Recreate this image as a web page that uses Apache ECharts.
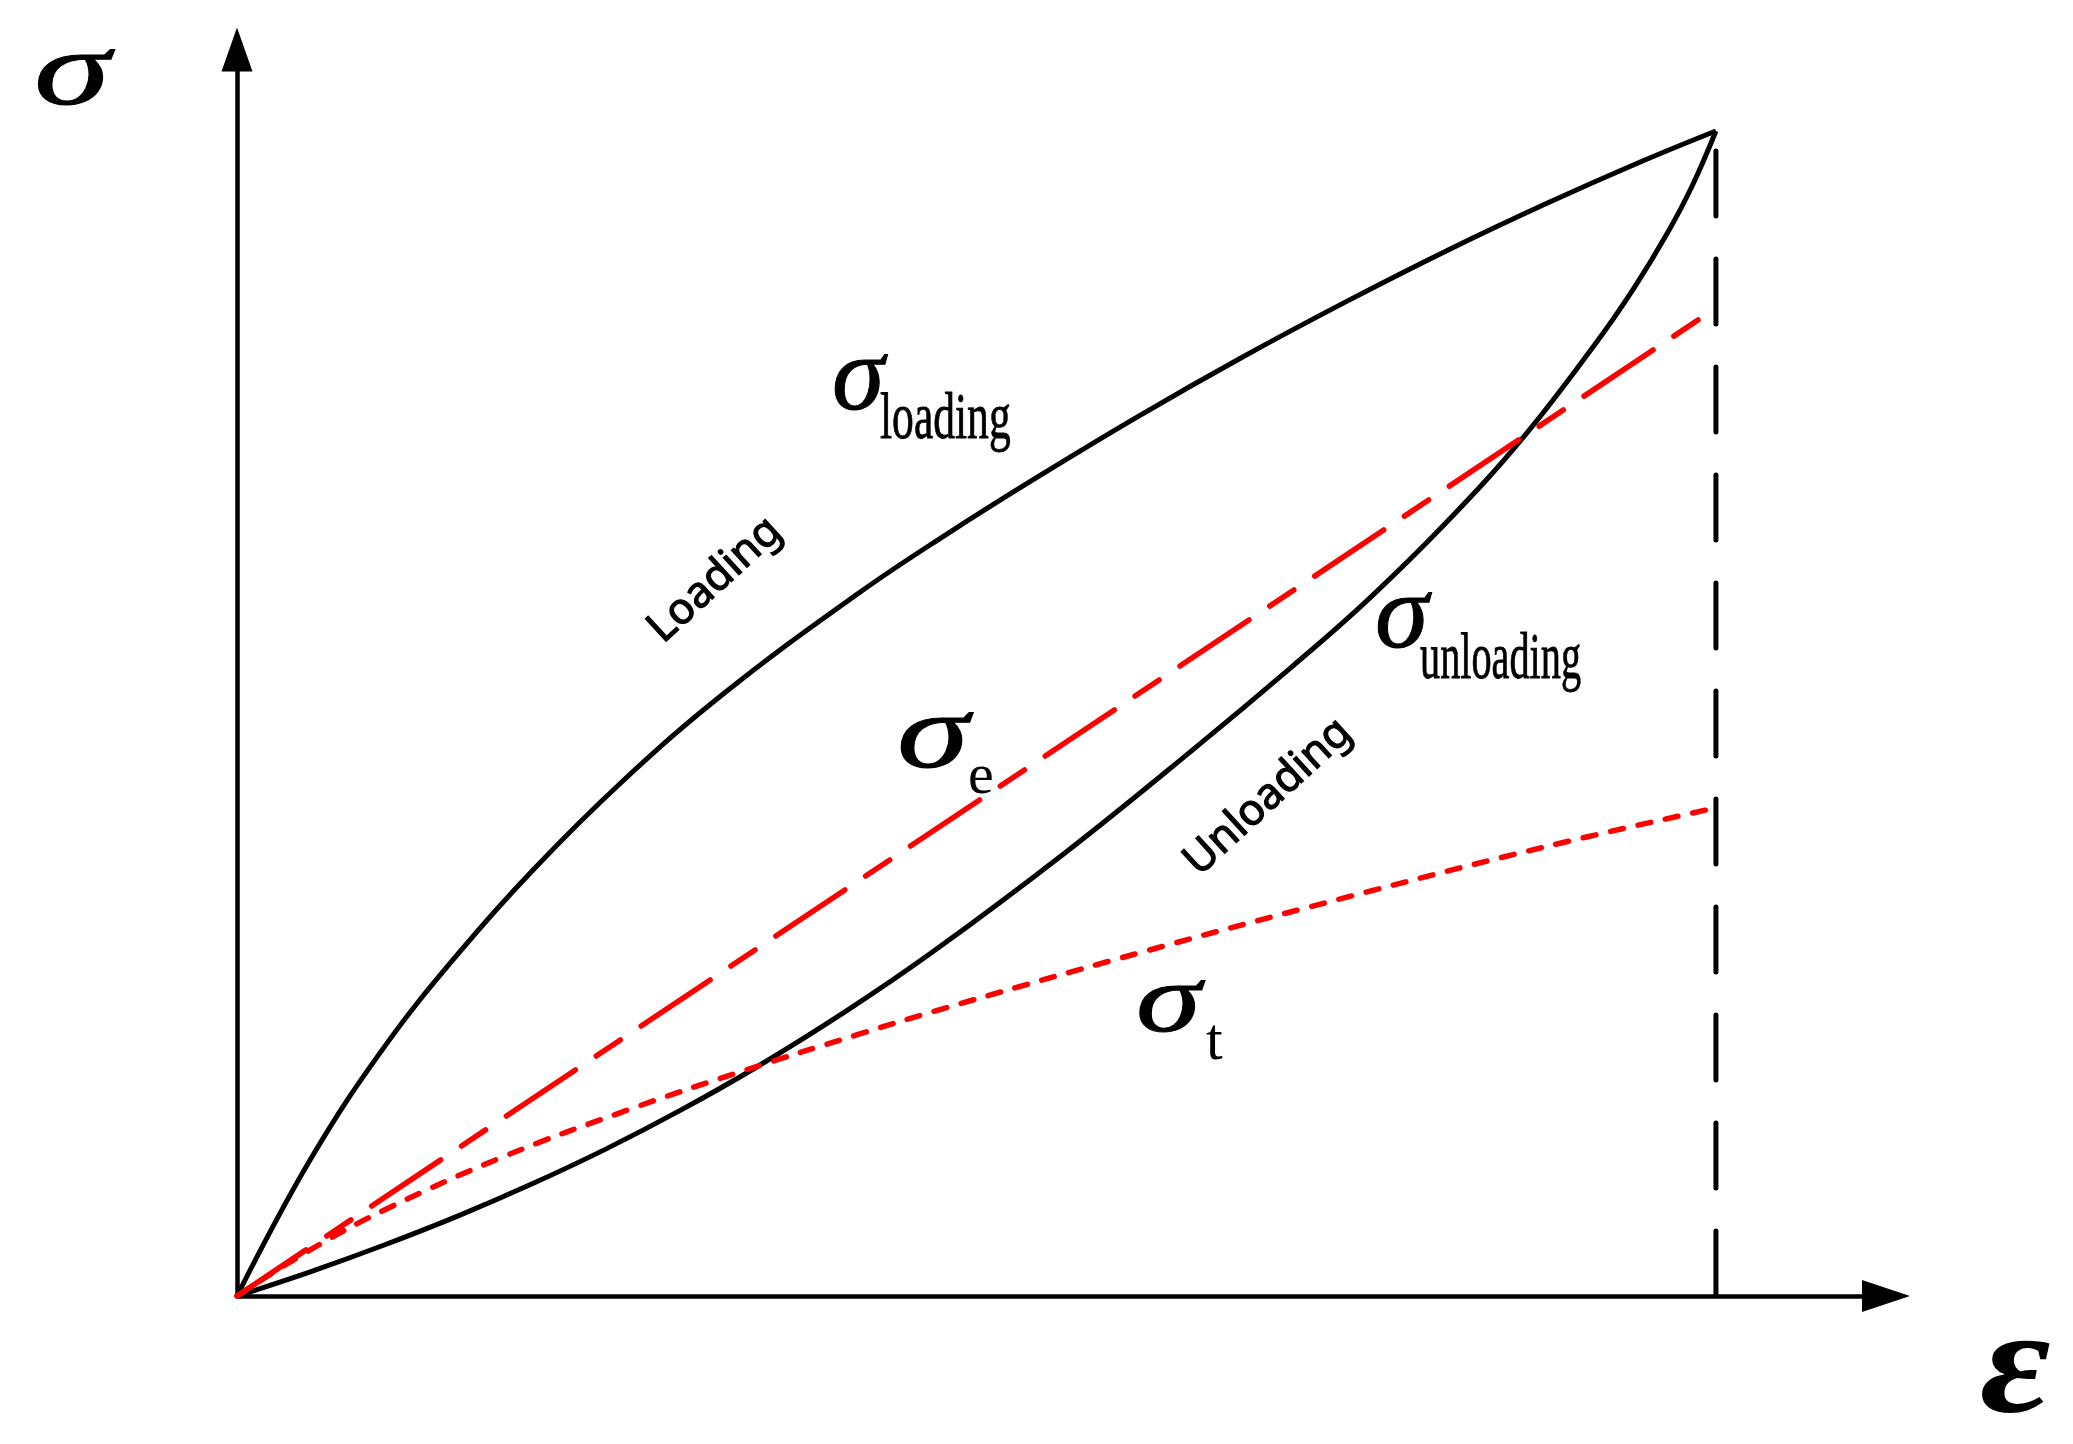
<!DOCTYPE html>
<html>
<head>
<meta charset="utf-8">
<title>Loading / Unloading</title>
<script src="https://cdn.jsdelivr.net/npm/echarts@6/dist/echarts.min.js"></script>
<style>
html, body { margin: 0; padding: 0; background: #fff; }
.mychart { width: 2073px; height: 1444px; }
</style>
</head>
<body>
<div id="mychart" class="mychart"></div>
<script>
// [strain, stress], peak point of the cycle = (100, 100)
const loadingCurve = [
  [0, 0], [5, 11.8], [10, 21.45], [15, 29.45], [20, 36.55], [26, 44.1], [33, 51.8],
  [42, 60.3], [48, 65.4], [54, 70.2], [61, 75.55], [68, 80.6], [75, 85.35],
  [82, 89.85], [88.5, 93.75], [95, 97.4], [100, 100]
]
const unloadingCurve = [
  [0, 0], [5, 2.1], [10, 4.4], [15, 6.9], [20, 9.65], [25, 12.65], [30, 15.95],
  [35, 19.55], [41, 24.3], [47, 29.5], [56, 38.05], [64.5, 46.75], [71.5, 54.2],
  [76.5, 59.8], [81.7, 66.3], [87, 73.75], [92, 82.0], [94.5, 86.6], [96.7, 91.2],
  [98.4, 95.3], [100, 100]
]
const sigmaE = [[0, 0], [100, 84.8]]
const sigmaT = [
  [0, 0], [5, 4.0], [10, 7.4], [18, 11.95], [26.5, 16.0], [34.4, 19.4], [42, 22.45],
  [47.3, 24.5], [61, 29.45], [74.8, 34.15], [88.6, 38.6], [100, 41.9]
]
const peakLine = [[100, 0], [100, 100]]

const serif = '"Liberation Serif", "Times New Roman", serif'

// text placed by its left edge and baseline
function txt (text, left, baseline, size, weight, extra, thick) {
  return Object.assign({
    type: 'text',
    x: left,
    y: baseline - size * 0.77,
    z: 100,
    style: {
      text: text,
      font: weight + ' ' + size + 'px ' + serif,
      fill: '#000',
      stroke: thick ? '#000' : null,
      lineWidth: thick || 0,
      align: 'left',
      verticalAlign: 'top',
      textAlign: 'left',
      textVerticalAlign: 'top'
    }
  }, extra || {})
}

function rotated (text, cx, cy) {
  return {
    type: 'text',
    x: cx,
    y: cy,
    z: 100,
    rotation: 42.5 * Math.PI / 180,
    style: {
      text: text,
      font: '43px "Noto Sans", "DejaVu Sans", sans-serif',
      fill: '#000',
      stroke: '#000',
      lineWidth: 1.2,
      align: 'center',
      verticalAlign: 'middle',
      textAlign: 'center',
      textVerticalAlign: 'middle'
    }
  }
}

const sig = 'italic'
const rom = 'normal'

let mychart = echarts.init(document.getElementById('mychart'))

const options = {
  backgroundColor: '#fff',
  animation: false,
  grid: { left: 237, right: 187, top: 49.4, bottom: 148, containLabel: false },
  xAxis: {
    type: 'value',
    min: 0,
    max: 111.5,
    axisLine: {
      show: true,
      symbol: ['none', 'triangle'],
      symbolSize: [32, 48],
      lineStyle: { color: '#000', width: 4.5 }
    },
    axisTick: { show: false },
    axisLabel: { show: false },
    splitLine: { show: false }
  },
  yAxis: {
    type: 'value',
    min: 0,
    max: 107,
    axisLine: {
      show: true,
      symbol: ['none', 'triangle'],
      symbolSize: [31, 44],
      lineStyle: { color: '#000', width: 4.5 }
    },
    axisTick: { show: false },
    axisLabel: { show: false },
    splitLine: { show: false }
  },
  series: [
    {
      name: 'loading',
      type: 'line',
      data: loadingCurve,
      smooth: 0.4,
      showSymbol: false,
      lineStyle: { color: '#000', width: 5 }
    },
    {
      name: 'unloading',
      type: 'line',
      data: unloadingCurve,
      smooth: 0.4,
      showSymbol: false,
      lineStyle: { color: '#000', width: 5 }
    },
    {
      name: 'sigma_e',
      type: 'line',
      data: sigmaE,
      showSymbol: false,
      lineStyle: { color: '#ff0000', width: 5.5, type: [83, 25, 29, 25], cap: 'round' }
    },
    {
      name: 'sigma_t',
      type: 'line',
      data: sigmaT,
      smooth: 0.4,
      showSymbol: false,
      lineStyle: { color: '#ff0000', width: 5.5, type: [13, 15], cap: 'round' }
    },
    {
      name: 'peak',
      type: 'line',
      data: peakLine,
      showSymbol: false,
      lineStyle: { color: '#000', width: 5, type: [65, 43], cap: 'round' }
    }
  ],
  graphic: [
    // axis names
    txt('σ', 34, 105, 106, sig, { scaleX: 1.45 }, 1),
    txt('ε', 1980, 1414, 150, 'italic bold', { scaleX: 1.15 }),
    // curve labels
    txt('σ', 832, 410, 106, sig, { scaleX: 1.0 }, 1),
    txt('loading', 880, 438, 66, rom, { scaleX: 0.66 }, 0.8),
    txt('σ', 1375, 648, 106, sig, { scaleX: 1.02 }, 1),
    txt('unloading', 1420, 678, 66, rom, { scaleX: 0.61 }, 0.8),
    txt('σ', 897, 768, 106, sig, { scaleX: 1.37 }, 1),
    txt('e', 968, 793, 58, rom),
    txt('σ', 1136, 1032, 98, sig, { scaleX: 1.34 }, 1),
    txt('t', 1206, 1059, 60, rom),
    rotated('Loading', 715, 580),
    rotated('Unloading', 1268, 797)
  ]
}

mychart.setOption(options)
</script>
</body>
</html>
